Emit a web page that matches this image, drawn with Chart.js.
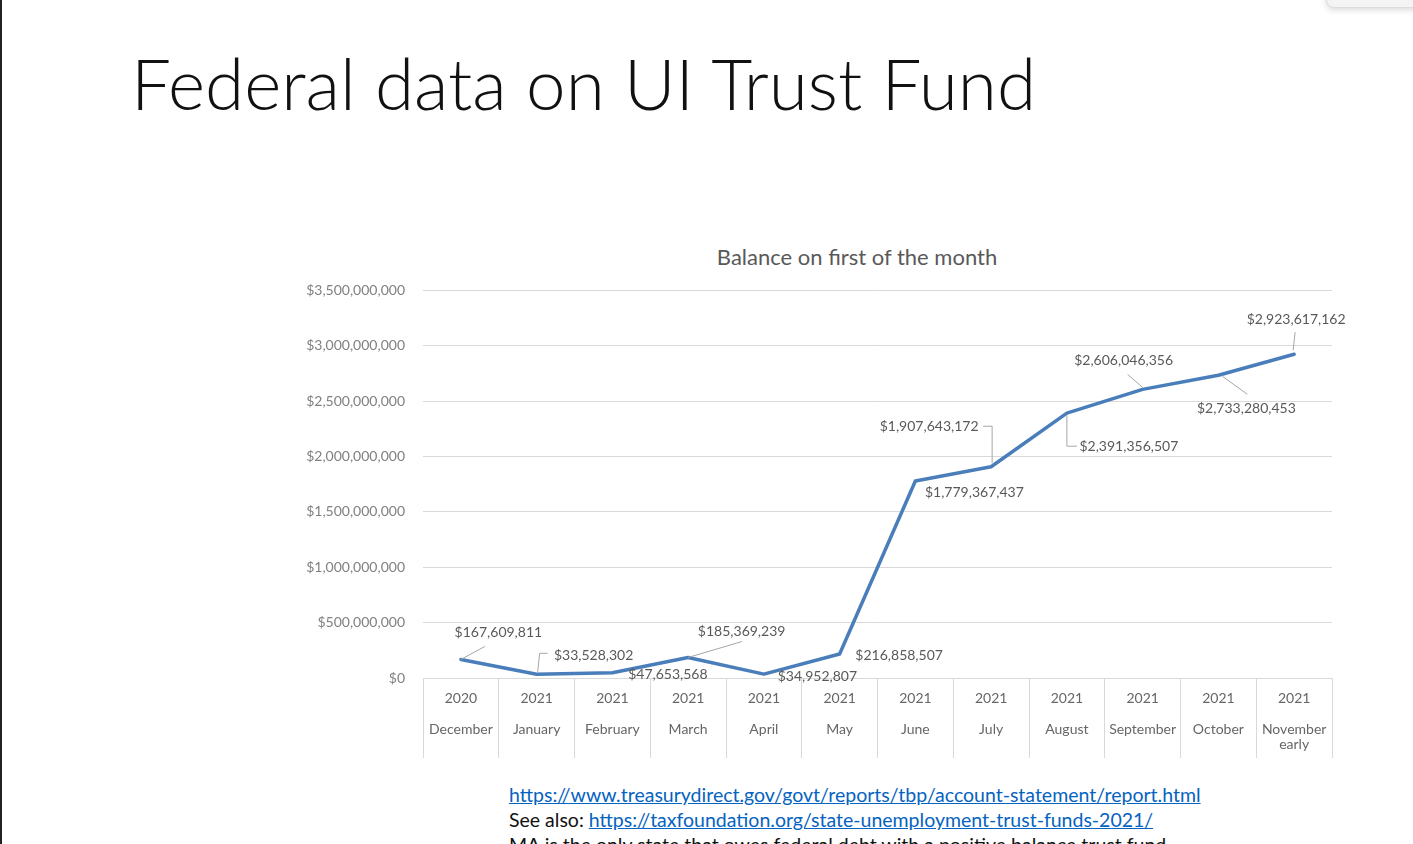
<!DOCTYPE html>
<html>
<head>
<meta charset="utf-8">
<script src="https://cdn.jsdelivr.net/npm/chart.js@4/dist/chart.umd.min.js"></script>
<style>
  html, body { margin:0; padding:0; background:#fff; width:1413px; height:844px; overflow:hidden; font-family: Lato, "Open Sans", sans-serif; }
  #edge { position:absolute; left:0; top:0; width:2px; height:844px; background:#222; }
  #corner { position:absolute; left:1326px; top:-20px; width:110px; height:26px; background:#f4f4f4; border:1px solid #dcdcdc; border-radius:8px; box-shadow:0 2px 6px rgba(0,0,0,0.15); }
  #mainTitle { position:absolute; left:131px; top:47px; font-size:71px; line-height:1; font-weight:300; color:#111; white-space:nowrap; }
  #chartTitle { position:absolute; left:607px; width:500px; top:244px; text-align:center; font-size:22px; line-height:1.2; color:#595959; }
  #wrap { position:absolute; left:290px; top:264px; width:1070px; height:506px; }
  .note { position:absolute; left:509px; font-size:19.5px; line-height:1; white-space:nowrap; color:#111; }
  .note a { color:#0563C1; text-decoration:underline; }
</style>
</head>
<body>
<div id="edge"></div>
<div id="corner"></div>
<div id="mainTitle">Federal data on UI Trust Fund</div>
<div id="chartTitle">Balance on first of the month</div>
<div id="wrap"><canvas id="c" width="1070" height="506"></canvas></div>
<div class="note" style="top:785px"><a>https://www.treasurydirect.gov/govt/reports/tbp/account-statement/report.html</a></div>
<div class="note" style="top:810px">See also: <a>https://taxfoundation.org/state-unemployment-trust-funds-2021/</a></div>
<div class="note" style="top:835px">MA is the only state that owes federal debt with a positive balance trust fund</div>
<script>
// ---- data ----
const years = ["2020","2021","2021","2021","2021","2021","2021","2021","2021","2021","2021","2021"];
const months = ["December","January","February","March","April","May","June","July","August","September","October","November"];
const monthSuffix = ["","","","","","","","","","","","early"];
const balances = [167609811, 33528302, 47653568, 185369239, 34952807, 216858507, 1779367437, 1907643172, 2391356507, 2606046356, 2733280453, 2923617162];
const yTickMax = 3500000000;
const yTickStep = 500000000;

// ---- label placement (style) ----
const labelPlacement = [
  {dx:37.5, dy:-27, leader:[[0,0],[24,-13]]},
  {dx:57, dy:-19, leader:[[1,-2],[3,-21],[11,-21]]},
  {dx:55.5, dy:2, leader:null},
  {dx:53.5, dy:-25.5, leader:[[0,0],[54,-16]]},
  {dx:53.5, dy:2, leader:null},
  {dx:59.5, dy:1, leader:null},
  {dx:59, dy:12, leader:null},
  {dx:-62, dy:-40, leader:[[-8,-40.5],[1,-40.5],[1,-3.5]]},
  {dx:62, dy:33, leader:[[0,2],[0,33],[10,33]]},
  {dx:-19, dy:-29, leader:[[-15,-15],[0,-2]]},
  {dx:28, dy:33, leader:[[4,1],[29,19]]},
  {dx:2, dy:-35, leader:[[1,-22],[-1,-4]]}
];

const fmt = v => "$" + Math.round(v).toLocaleString("en-US");
const catLabels = years.map((y,i) => monthSuffix[i] ? [y, "", months[i], monthSuffix[i]] : [y, "", months[i]]);

const dataLabels = {
  id: 'dataLabels',
  afterDatasetsDraw(chart) {
    const ctx = chart.ctx;
    const meta = chart.getDatasetMeta(0);
    ctx.save();
    meta.data.forEach((pt, i) => {
      const p = labelPlacement[i];
      if (p.leader) {
        ctx.beginPath();
        ctx.strokeStyle = '#a6a6a6';
        ctx.lineWidth = 1;
        p.leader.forEach(([lx, ly], k) => {
          if (k === 0) ctx.moveTo(pt.x + lx, pt.y + ly); else ctx.lineTo(pt.x + lx, pt.y + ly);
        });
        ctx.stroke();
      }
      ctx.font = '14px Lato, "Open Sans", sans-serif';
      ctx.fillStyle = '#595959';
      ctx.textAlign = 'center';
      ctx.textBaseline = 'middle';
      ctx.fillText(fmt(balances[i]), pt.x + p.dx, pt.y + p.dy);
    });
    ctx.restore();
  }
};

new Chart(document.getElementById('c'), {
  type: 'line',
  data: {
    labels: catLabels,
    datasets: [{
      data: balances,
      borderColor: '#4A7EBB',
      borderWidth: 3.5,
      pointRadius: 0,
      tension: 0,
      fill: false,
      borderCapStyle: 'round',
      borderJoinStyle: 'round'
    }]
  },
  options: {
    responsive: false,
    animation: false,
    devicePixelRatio: 1,
    layout: { padding: { top: 9, right: 28, bottom: 0, left: 0 } },
    plugins: { legend: { display: false }, tooltip: { enabled: false }, title: { display: false } },
    scales: {
      x: {
        offset: true,
        grid: { offset: true, drawOnChartArea: false, drawTicks: true, tickLength: 80, color: '#d9d9d9', lineWidth: 1 },
        border: { display: true, color: '#d9d9d9' },
        ticks: {
          autoSkip: false, maxRotation: 0, minRotation: 0,
          color: '#666666',
          font: { family: 'Lato, "Open Sans", sans-serif', size: 14, lineHeight: 1.107 },
          padding: -67.75
        },
        afterFit: s => { s.height = 92; }
      },
      y: {
        min: 0, max: yTickMax,
        grid: { color: '#d9d9d9', lineWidth: 1, drawTicks: false },
        border: { display: false },
        ticks: {
          stepSize: yTickStep,
          padding: 18,
          color: '#808080',
          font: { family: 'Lato, "Open Sans", sans-serif', size: 14 },
          callback: v => fmt(v)
        },
        afterFit: s => { s.width = 133; }
      }
    }
  },
  plugins: [dataLabels]
});
</script>
</body>
</html>
